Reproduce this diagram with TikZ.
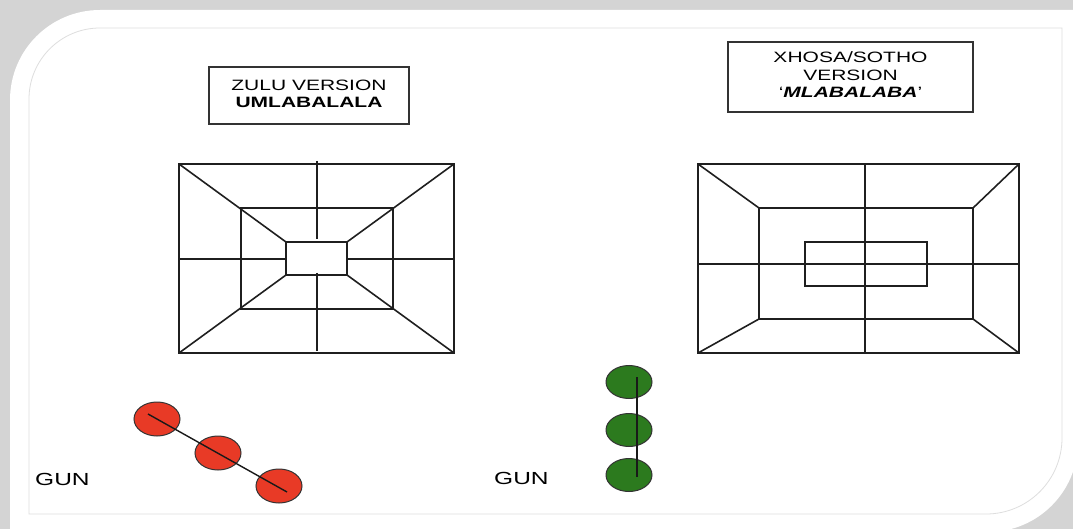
\documentclass[tikz,border=0pt]{standalone}
\usepackage{fontspec}
\usepackage{graphicx}
\setmainfont{Liberation Sans}
\usetikzlibrary{shapes.geometric}
\definecolor{bggrey}{RGB}{212,212,212}
\definecolor{frameline}{RGB}{222,222,222}
\definecolor{gunred}{RGB}{232,58,38}
\definecolor{gungreen}{RGB}{44,122,30}
\newcommand{\widetext}[1]{\scalebox{1.4}[1]{#1}}
\tikzset{
  gridline/.style={line width=1.6pt, draw=black!88},
  titlebox/.style={draw=black!80, line width=1.6pt, inner sep=0pt, align=center,
    font=\fontsize{15}{17.5}\selectfont},
  gunlabel/.style={font=\fontsize{17.5}{20}\selectfont, inner sep=0pt, anchor=west},
  redpiece/.style={ellipse, draw=black!80, line width=1pt, fill=gunred,
    minimum width=46pt, minimum height=34pt, inner sep=0pt},
  greenpiece/.style={ellipse, draw=black!80, line width=1pt, fill=gungreen,
    minimum width=46pt, minimum height=33pt, inner sep=0pt},
  gunline/.style={line width=1.4pt, draw=black!90}
}
\begin{document}
\begin{tikzpicture}[x=1pt, y=-1pt]
\useasboundingbox (0,0) rectangle (1073,529);
% background and card
\fill[bggrey] (0,0) rectangle (1073,529);
\fill[white] (10,532) -- (10,300) [rounded corners=90pt] -- (10,10) -- (300,10) [sharp corners] -- (1078,10) -- (1078,250) [rounded corners=90pt] -- (1078,532) -- (800,532) [sharp corners] -- cycle;
\draw[frameline, line width=0.8pt] (29,514) -- (29,250) [rounded corners=71pt] -- (29,28) -- (250,28) [sharp corners] -- (1062,28) -- (1062,300) [rounded corners=76pt] -- (1062,514) -- (800,514) [sharp corners] -- cycle;

% title boxes
\node[titlebox, minimum width=200pt, minimum height=57pt] (zulu) at (309,95.5)
  {\raisebox{2pt}{\widetext{\begin{tabular}{@{}c@{}}ZULU VERSION\\\textbf{UMLABALALA}\end{tabular}}}};
\node[titlebox, minimum width=245pt, minimum height=70pt] (xhosa) at (850.5,77)
  {\widetext{\begin{tabular}{@{}c@{}}XHOSA/SOTHO\\VERSION\\‘\textbf{\textit{MLABALABA}}’\end{tabular}}};

% Zulu board
\coordinate (zo1) at (179,164); \coordinate (zo2) at (454,353);
\coordinate (zm1) at (241,208); \coordinate (zm2) at (393,309);
\coordinate (zi1) at (286,242); \coordinate (zi2) at (347,275);
\draw[gridline] (zo1) rectangle (zo2);
\draw[gridline] (zm1) rectangle (zm2);
\draw[gridline] (zi1) rectangle (zi2);
\draw[gridline] (179,164) -- (286,242);
\draw[gridline] (454,164) -- (347,242);
\draw[gridline] (179,353) -- (286,275);
\draw[gridline] (454,353) -- (347,275);
\draw[gridline] (179,259) -- (286,259);
\draw[gridline] (347,259) -- (454,259);
\draw[gridline] (317,161) -- (317,239);
\draw[gridline] (317,273) -- (317,351);

% Xhosa board
\coordinate (xo1) at (698,164); \coordinate (xo2) at (1019,353);
\coordinate (xm1) at (759,208); \coordinate (xm2) at (973,319);
\coordinate (xi1) at (805,242); \coordinate (xi2) at (927,286);
\draw[gridline] (xo1) rectangle (xo2);
\draw[gridline] (xm1) rectangle (xm2);
\draw[gridline] (xi1) rectangle (xi2);
\draw[gridline] (698,164) -- (759,208);
\draw[gridline] (1019,164) -- (973,208);
\draw[gridline] (698,353) -- (759,319);
\draw[gridline] (1019,353) -- (973,319);
\draw[gridline] (865,164) -- (865,353);
\draw[gridline] (698,264) -- (1019,264);

% Zulu gun
\node[gunlabel] (gunz) at (35,479) {\widetext{GUN}};
\node[redpiece] (r1) at (157,419) {};
\node[redpiece] (r2) at (218,453) {};
\node[redpiece] (r3) at (279,486) {};
\coordinate (rs) at (148,414);
\coordinate (re) at (287,492);
\draw[gunline] (rs) -- (re);

% Xhosa gun
\node[gunlabel] (gunx) at (494,478) {\widetext{GUN}};
\node[greenpiece] (g1) at (629,382) {};
\node[greenpiece] (g2) at (629,430) {};
\node[greenpiece] (g3) at (629,475) {};
\coordinate (gs) at (637,377);
\coordinate (ge) at (637,477);
\draw[gunline] (gs) -- (ge);
\end{tikzpicture}
\end{document}
